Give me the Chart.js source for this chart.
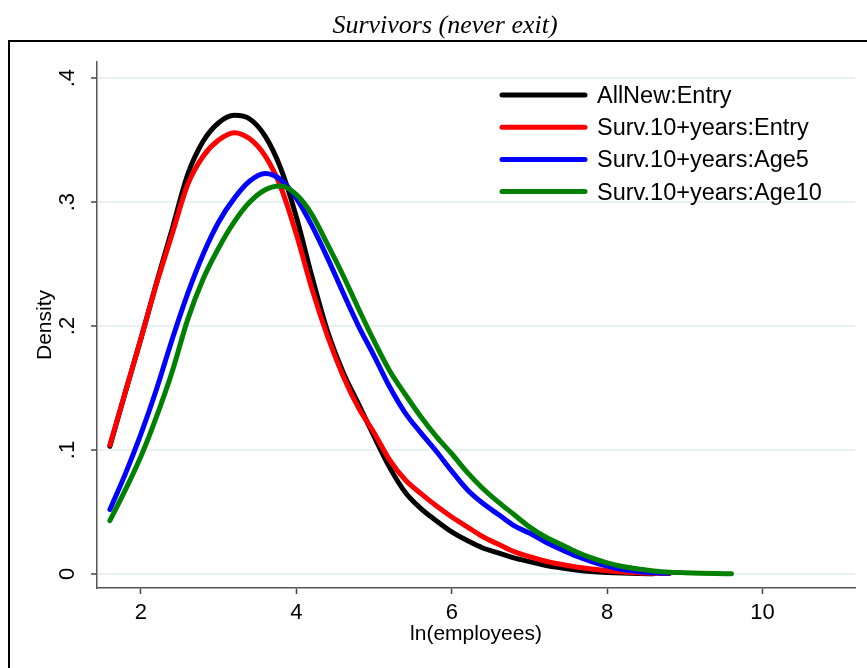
<!DOCTYPE html>
<html>
<head>
<meta charset="utf-8">
<script src="https://cdn.jsdelivr.net/npm/chart.js@4.4.0/dist/chart.umd.min.js"></script>
<style>
  html, body { margin: 0; padding: 0; background: #fff; }
  canvas { display: block; }
</style>
</head>
<body>
<canvas id="c" width="867" height="668"></canvas>
<script>
// ---- data ----
const chartTitle = "Survivors (never exit)";
const xTitle = "ln(employees)";
const yTitle = "Density";
const seriesNames = ["AllNew:Entry", "Surv.10+years:Entry", "Surv.10+years:Age5", "Surv.10+years:Age10"];
const xTickValues = [2, 4, 6, 8, 10];
const yTickValues = [0, 0.1, 0.2, 0.3, 0.4];
const yTickLabels = ["0", ".1", ".2", ".3", ".4"];

const xs = [1.6,1.8,2.0,2.2,2.4,2.6,2.8,3.0,3.2,3.4,3.6,3.8,4.0,4.2,4.4,4.6,4.8,5.0,5.2,5.4,
            5.6,5.8,6.0,6.2,6.4,6.6,6.8,7.0,7.2,7.4,7.6,7.8,8.0,8.2,8.4,8.6,8.8,9.0,9.2,9.4,9.6];

const allNewEntry = [0.103,0.147,0.190,0.235,0.278,0.322,0.349,0.364,0.370,0.367,0.353,0.327,0.288,0.240,
  0.196,0.163,0.137,0.111,0.086,0.066,0.053,0.043,0.034,0.027,0.021,0.017,0.013,0.010,0.007,0.005,
  0.0033,0.002,0.0012,0.0007,0.0004,0.0002,null,null,null,null,null];

const survEntry = [0.104,0.147,0.190,0.234,0.274,0.314,0.337,0.350,0.356,0.351,0.337,0.312,0.274,0.230,
  0.192,0.160,0.134,0.114,0.092,0.076,0.065,0.055,0.046,0.038,0.030,0.024,0.018,0.014,0.0105,0.0078,
  0.0057,0.004,0.0027,0.0017,0.001,0.0006,0.0003,null,null,null,null];

const survAge5 = [0.052,0.081,0.113,0.149,0.189,0.226,0.258,0.284,0.303,0.317,0.323,0.318,0.303,0.281,
  0.255,0.227,0.200,0.176,0.151,0.130,0.114,0.099,0.083,0.068,0.057,0.048,0.039,0.033,0.026,0.020,
  0.0145,0.010,0.0063,0.0035,0.002,0.001,0.0005,null,null,null,null];

const survAge10 = [0.043,0.068,0.095,0.127,0.163,0.205,0.238,0.263,0.284,0.300,0.310,0.313,0.306,0.290,
  0.266,0.241,0.214,0.188,0.164,0.145,0.127,0.111,0.097,0.082,0.069,0.058,0.048,0.038,0.030,0.024,
  0.018,0.013,0.009,0.006,0.004,0.0025,0.0015,0.001,0.0006,0.0003,0.0001];

const seriesValues = [allNewEntry, survEntry, survAge5, survAge10];
const seriesColors = ["#000000", "#ff0000", "#0000ff", "#008000"];

// ---- build ----
const toPoints = arr => xs.map((x, i) => ({ x: x, y: arr[i] })).filter(p => p.y !== null);

const datasets = seriesValues.map((vals, i) => ({
  label: seriesNames[i],
  data: toPoints(vals),
  borderColor: seriesColors[i],
  backgroundColor: seriesColors[i],
  borderWidth: 5,
  pointRadius: 0,
  fill: false,
  cubicInterpolationMode: 'monotone',
  borderCapStyle: 'round',
  borderJoinStyle: 'round',
  order: seriesValues.length - i
}));

const framePlugin = {
  id: 'frame',
  afterDraw(chart) {
    const ctx = chart.ctx;
    ctx.save();
    ctx.strokeStyle = '#000';
    ctx.lineWidth = 2;
    ctx.strokeRect(9, 41, 880, 660);
    ctx.fillStyle = '#000';
    ctx.font = 'italic 26px "Liberation Serif"';
    ctx.textAlign = 'center';
    ctx.textBaseline = 'middle';
    ctx.fillText(chartTitle, 445, 26);
    ctx.restore();
  }
};

const legendPlugin = {
  id: 'insideLegend',
  afterDatasetsDraw(chart) {
    const ctx = chart.ctx;
    ctx.save();
    chart.data.datasets.forEach((ds, i) => {
      const y = 95 + i * 32.2;
      ctx.strokeStyle = ds.borderColor;
      ctx.lineWidth = 5;
      ctx.lineCap = 'round';
      ctx.beginPath();
      ctx.moveTo(502, y);
      ctx.lineTo(585, y);
      ctx.stroke();
      ctx.fillStyle = '#000';
      ctx.font = '23.5px "Liberation Sans"';
      ctx.textAlign = 'left';
      ctx.textBaseline = 'middle';
      ctx.fillText(ds.label, 597, y + 1.5);
    });
    ctx.restore();
  }
};

const tickFont = { family: 'Liberation Sans', size: 22 };
const axisTitleFont = { family: 'Liberation Sans', size: 21 };

new Chart(document.getElementById('c'), {
  type: 'line',
  data: { datasets: datasets },
  options: {
    responsive: false,
    animation: false,
    layout: { padding: { left: 0, right: 12, top: 62, bottom: 0 } },
    plugins: {
      legend: { display: false },
      tooltip: { enabled: false },
      title: { display: false }
    },
    scales: {
      x: {
        type: 'linear',
        min: 1.434,
        max: 11.19,
        afterBuildTicks: s => { s.ticks = xTickValues.map(v => ({ value: v })); },
        afterFit: s => { s.height = 80; },
        grid: { drawOnChartArea: false, drawTicks: true, tickLength: 6, tickColor: '#444', tickWidth: 1.5 },
        border: { display: true, color: '#555', width: 1.5 },
        ticks: { font: tickFont, color: '#000', padding: 6, maxRotation: 0, minRotation: 0, autoSkip: false },
        title: { display: true, text: xTitle, color: '#000', font: axisTitleFont, padding: { top: 0, bottom: 21 } }
      },
      y: {
        type: 'linear',
        min: -0.0113,
        max: 0.413,
        afterBuildTicks: s => { s.ticks = yTickValues.map(v => ({ value: v })); },
        afterFit: s => { s.width = 97; },
        grid: { color: '#e9f1f3', lineWidth: 2, drawTicks: true, tickLength: 6, tickColor: '#444', tickWidth: 1.5 },
        border: { display: true, color: '#555', width: 1.5 },
        ticks: {
          font: tickFont, color: '#000', padding: 14, minRotation: 90, maxRotation: 90, crossAlign: 'center', autoSkip: false,
          callback: (v) => { const i = yTickValues.findIndex(t => Math.abs(t - v) < 1e-9); return i >= 0 ? yTickLabels[i] : ''; }
        },
        title: { display: true, text: yTitle, color: '#000', font: axisTitleFont, padding: { top: 33, bottom: 0 } }
      }
    }
  },
  plugins: [framePlugin, legendPlugin]
});
</script>
</body>
</html>
